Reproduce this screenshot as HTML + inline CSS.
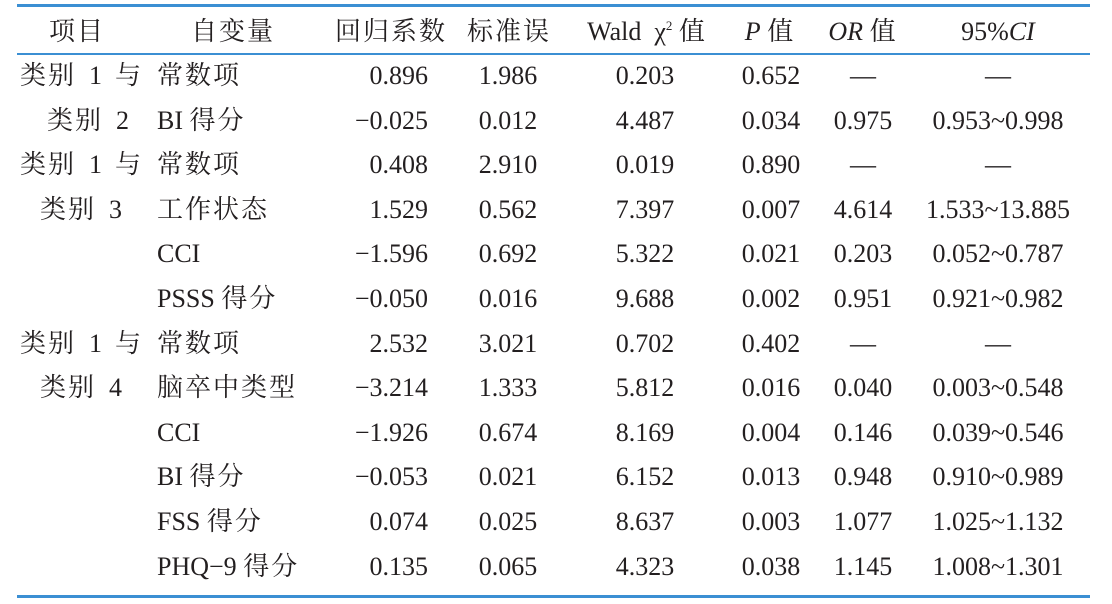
<!DOCTYPE html><html><head><meta charset="utf-8"><style>
body{margin:0;width:1112px;height:604px;background:#fff;position:relative;overflow:hidden;font-family:"Liberation Serif","Noto Serif CJK SC",serif;font-size:26px;color:#231f20}
.l{position:absolute;left:17px;width:1073px;background:#3b8fd3}
.c{position:absolute;white-space:pre;line-height:30px;height:30px}
.z{letter-spacing:2px}
.m{transform:translateX(-50%)}
.r{transform:translateX(-100%)}
i{font-style:italic}
sup{font-size:13px;line-height:0;vertical-align:10px}
</style></head><body>
<div class="l" style="top:4px;height:3px"></div>
<div class="l" style="top:53px;height:2px"></div>
<div class="l" style="top:595px;height:3px"></div>
<div id="t"></div>
<script>
function z(t){return t.replace(/([\u4e00-\u9fff]+)/g,"<span class=z>$1</span>");}
var H=[["项目",77],["自变量",233],["回归系数",391],["标准误",509],["Wald  χ<sup>2</sup> 值",647],["<i>P</i> 值",770],["<i>OR</i> 值",863],["95%<i>CI</i>",998]];
var R=[["类别 1 与","常数项","0.896","1.986","0.203","0.652","—","—"],
["类别 2","BI 得分","−0.025","0.012","4.487","0.034","0.975","0.953~0.998",47],
["类别 1 与","常数项","0.408","2.910","0.019","0.890","—","—"],
["类别 3","工作状态","1.529","0.562","7.397","0.007","4.614","1.533~13.885",40],
["","CCI","−1.596","0.692","5.322","0.021","0.203","0.052~0.787"],
["","PSSS 得分","−0.050","0.016","9.688","0.002","0.951","0.921~0.982"],
["类别 1 与","常数项","2.532","3.021","0.702","0.402","—","—"],
["类别 4","脑卒中类型","−3.214","1.333","5.812","0.016","0.040","0.003~0.548",40],
["","CCI","−1.926","0.674","8.169","0.004","0.146","0.039~0.546"],
["","BI 得分","−0.053","0.021","6.152","0.013","0.948","0.910~0.989"],
["","FSS 得分","0.074","0.025","8.637","0.003","1.077","1.025~1.132"],
["","PHQ−9 得分","0.135","0.065","4.323","0.038","1.145","1.008~1.301"]];
var s="";
H.forEach(function(h){s+='<div class="c m" style="left:'+h[1]+'px;top:17px">'+z(h[0])+'</div>'});
R.forEach(function(r,i){var y=61+i*44.6;
s+='<div class="c" style="left:'+(r[8]||20)+'px;top:'+y+'px">'+z(r[0]).replace(/ (\d) /,"  $1  ").replace(/ (\d)$/,"  $1")+'</div>';
s+='<div class="c" style="left:157px;top:'+y+'px">'+z(r[1])+'</div>';
s+='<div class="c r" style="left:428px;top:'+y+'px">'+r[2]+'</div>';
var X=[508,645,771,863,998];
for(var k=3;k<8;k++)s+='<div class="c m" style="left:'+X[k-3]+'px;top:'+y+'px">'+r[k]+'</div>';});
document.getElementById("t").innerHTML=s;
</script>
</body></html>
